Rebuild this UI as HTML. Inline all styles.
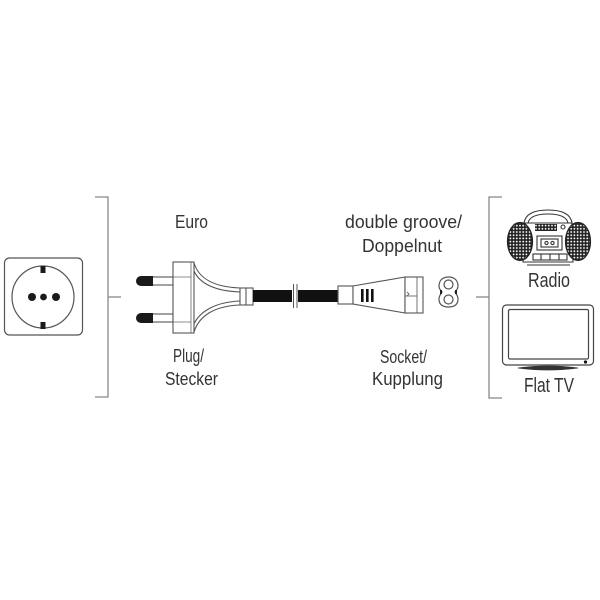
<!DOCTYPE html>
<html><head><meta charset="utf-8"><style>
html,body{margin:0;padding:0;background:#fff;}
svg{display:block;}
text{font-family:"Liberation Sans Narrow","Liberation Sans",sans-serif;fill:#333;}
</style></head><body>
<svg width="600" height="600" viewBox="0 0 600 600" xmlns="http://www.w3.org/2000/svg">
<defs>
<pattern id="dots" width="3.2" height="3.2" patternUnits="userSpaceOnUse">
<rect width="3.2" height="3.2" fill="#222"/>
<circle cx="1.6" cy="1.6" r="0.9" fill="#fff"/>
</pattern>
</defs>
<rect width="600" height="600" fill="#fff"/>

<!-- Brackets -->
<g stroke="#888" stroke-width="1.3" fill="none">
<polyline points="95,197 108,197 108,397 95,397"/>
<line x1="108" y1="297" x2="121" y2="297"/>
<polyline points="502,197 489,197 489,398 502,398"/>
<line x1="476" y1="297" x2="489" y2="297"/>
</g>

<!-- Wall socket -->
<g stroke="#555" stroke-width="1.2" fill="none">
<rect x="4.5" y="258" width="78" height="77" rx="5"/>
<circle cx="43" cy="297" r="31"/>
</g>
<g fill="#1a1a1a">
<rect x="40.5" y="266" width="5" height="7"/>
<rect x="40.5" y="322" width="5" height="7"/>
<circle cx="32" cy="297" r="4"/>
<circle cx="43.5" cy="297" r="3.4"/>
<circle cx="56" cy="297" r="4"/>
</g>

<!-- Euro plug -->
<g stroke="#555" stroke-width="1.1" fill="#fff">
<rect x="152" y="277" width="21" height="8"/>
<rect x="152" y="314" width="21" height="8"/>
<rect x="173" y="262" width="21" height="71"/>
</g>
<g stroke="#666" stroke-width="0.8" fill="none">
<line x1="173" y1="277" x2="191" y2="277"/>
<line x1="173" y1="322" x2="191" y2="322"/>
<line x1="191" y1="262" x2="191" y2="333"/>
</g>
<path d="M141,276 L153,276 L153,286 L141,286 A5,5 0 0 1 141,276 Z" fill="#1a1a1a"/>
<path d="M141,313 L153,313 L153,323 L141,323 A5,5 0 0 1 141,313 Z" fill="#1a1a1a"/>
<g stroke="#555" stroke-width="1.1" fill="none">
<path d="M194,263 C199,279 214,287 240,288"/>
<path d="M194,271 C200,284 216,291 240,292"/>
<path d="M194,332 C199,316 214,306 240,305"/>
<path d="M194,324 C200,311 216,302 240,301"/>
<rect x="240" y="288" width="13" height="17" fill="#fff"/>
<line x1="246" y1="288" x2="246" y2="305"/>
</g>

<!-- Cable -->
<rect x="253" y="290" width="39" height="12" fill="#111"/>
<rect x="298" y="290" width="40" height="12" fill="#111"/>
<g stroke="#555" stroke-width="1">
<line x1="293.5" y1="284" x2="293.5" y2="308"/>
<line x1="297" y1="284" x2="297" y2="308"/>
</g>

<!-- C7 connector -->
<g stroke="#555" stroke-width="1.1" fill="#fff">
<rect x="338" y="286" width="15" height="18"/>
<path d="M353,286 L405,277 L405,313 L353,304 Z"/>
<rect x="405" y="277" width="18" height="36"/>
</g>
<g stroke="#666" stroke-width="0.9" fill="none">
<line x1="417" y1="277" x2="417" y2="313"/>
<line x1="405" y1="296" x2="417" y2="296"/>
<path d="M407,292 L409,294 L407,296"/>
</g>
<g fill="#111">
<rect x="361" y="289" width="2.6" height="13"/>
<rect x="366" y="289" width="2.6" height="13"/>
<rect x="371" y="289" width="2.6" height="13"/>
</g>

<!-- Figure-8 socket face -->
<g stroke="#555" stroke-width="1.2" fill="none">
<path d="M448.5,277 C455,277 458,281 458,286 C458,290 455,291 455,292 C455,293 458,295 458,299 C458,304 455,307 448.5,307 C442,307 439,304 439,299 C439,295 442,293 442,292 C442,291 439,290 439,286 C439,281 442,277 448.5,277 Z"/>
<circle cx="448.5" cy="284.5" r="4.5"/>
<circle cx="448.5" cy="299.5" r="4.5"/>
</g>
<g fill="#222"><rect x="440" y="290" width="2" height="4"/><rect x="455" y="290" width="2" height="4"/></g>

<!-- Radio -->
<g stroke="#333" stroke-width="1.1" fill="none">
<path d="M524,223 Q526,210 548,210 Q570,210 572,223"/>
<path d="M528,223 Q530,214 548,214 Q566,214 568,223"/>
<path d="M524,223 L572,223 L573,262 L523,262 Z" fill="#fff"/>
<rect x="537" y="236" width="25" height="14"/>
<rect x="541" y="239" width="17" height="8"/>
<circle cx="546.5" cy="243" r="1.6"/>
<circle cx="552.5" cy="243" r="1.6"/>
<rect x="533" y="254" width="34" height="6"/>
<line x1="541" y1="254" x2="541" y2="260"/>
<line x1="550" y1="254" x2="550" y2="260"/>
<line x1="559" y1="254" x2="559" y2="260"/>
<line x1="527" y1="265" x2="570" y2="265"/>
<circle cx="563" cy="227" r="2"/>
</g>
<rect x="535" y="224" width="22" height="7" fill="url(#dots)"/>
<ellipse cx="520" cy="241.5" rx="12.5" ry="19" fill="url(#dots)" stroke="#222" stroke-width="1.2"/>
<ellipse cx="578" cy="241.5" rx="12.5" ry="19" fill="url(#dots)" stroke="#222" stroke-width="1.2"/>

<!-- Flat TV -->
<g stroke="#444" stroke-width="1.2" fill="none">
<rect x="502.5" y="305" width="91" height="60" rx="4"/>
<rect x="508.5" y="309.5" width="80" height="49.5" rx="1.5"/>
</g>
<path d="M518,368 Q548,364 578,368 Q548,372 518,368 Z" fill="#333" stroke="#333" stroke-width="0.8"/>
<circle cx="585.5" cy="362" r="1.6" fill="#111"/>

<!-- Labels -->
<g font-size="18">
<text x="175" y="228" textLength="33" lengthAdjust="spacingAndGlyphs">Euro</text>
<text x="173" y="362" textLength="31" lengthAdjust="spacingAndGlyphs">Plug/</text>
<text x="165" y="385" textLength="53" lengthAdjust="spacingAndGlyphs">Stecker</text>
<text x="345" y="228" textLength="117" lengthAdjust="spacingAndGlyphs">double groove/</text>
<text x="362" y="252" textLength="80" lengthAdjust="spacingAndGlyphs">Doppelnut</text>
<text x="380" y="363" textLength="47" lengthAdjust="spacingAndGlyphs">Socket/</text>
<text x="372" y="385" textLength="71" lengthAdjust="spacingAndGlyphs">Kupplung</text>
</g>
<g font-size="20">
<text x="528" y="287" textLength="42" lengthAdjust="spacingAndGlyphs">Radio</text>
<text x="524" y="392" textLength="50" lengthAdjust="spacingAndGlyphs">Flat TV</text>
</g>
</svg>
</body></html>
